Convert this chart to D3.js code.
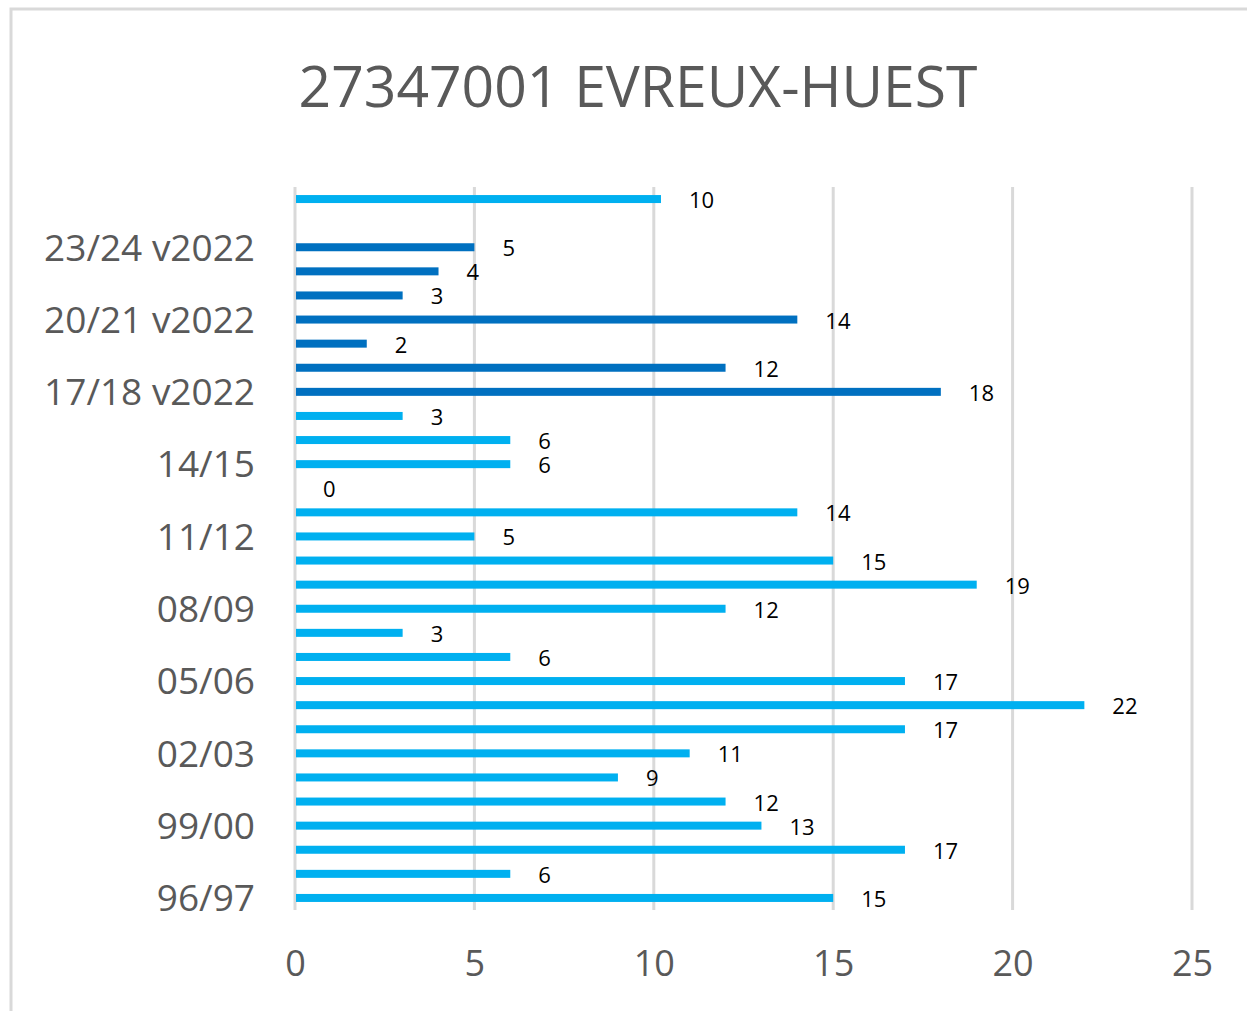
<!DOCTYPE html>
<html>
<head>
<meta charset="utf-8">
<script src="https://cdn.jsdelivr.net/npm/d3@7"></script>
<style>
  html, body { margin: 0; padding: 0; background: #fff; }
  svg { display: block; }
</style>
</head>
<body>
<svg id="chart" width="1247" height="1011"></svg>
<script>
// ---- data ----
const title = "27347001 EVREUX-HUEST";
const categories = ["96/97","97/98","98/99","99/00","00/01","01/02","02/03","03/04","04/05","05/06",
  "06/07","07/08","08/09","09/10","10/11","11/12","12/13","13/14","14/15","15/16",
  "16/17","17/18 v2022","18/19 v2022","19/20 v2022","20/21 v2022","21/22 v2022","22/23 v2022","23/24 v2022","24/25 v2022","25/26"];
const values = [15,6,17,13,12,9,11,17,22,17,
  6,3,12,19,15,5,14,0,6,6,
  3,18,12,2,14,3,4,5,null,10.2];
const method = ["old","old","old","old","old","old","old","old","old","old",
  "old","old","old","old","old","old","old","old","old","old",
  "old","v2022","v2022","v2022","v2022","v2022","v2022","v2022","v2022","old"];
const xTicks = [0,5,10,15,20,25];
const shownCategories = categories.filter((d,i) => i % 3 === 0);

// ---- layout ----
const svg = d3.select("#chart");
const font = "'Open Sans', 'Noto Sans', sans-serif";
const plot = {left: 295, right: 1192, top: 187, bottom: 910};

svg.append("rect").attr("x", 11).attr("y", 9).attr("width", 1260).attr("height", 1020)
  .attr("fill", "#fff").attr("stroke", "#d9d9d9").attr("stroke-width", 3);

const x = d3.scaleLinear().domain([0, 25]).range([plot.left, plot.right]);
const y = d3.scaleBand().domain(categories).range([plot.bottom, plot.top]).paddingInner(0).paddingOuter(0);
const color = d3.scaleOrdinal().domain(["old","v2022"]).range(["#00B0F0","#0070C0"]);

// gridlines
svg.append("g").selectAll("line").data(xTicks).join("line")
  .attr("x1", d => x(d)).attr("x2", d => x(d))
  .attr("y1", plot.top).attr("y2", plot.bottom)
  .attr("stroke", "#d9d9d9").attr("stroke-width", 3);

// title
svg.append("text").attr("x", 638).attr("y", 107).attr("text-anchor", "middle")
  .attr("font-family", font).attr("font-size", 57).attr("fill", "#595959").text(title);

// x axis
const xAxis = svg.append("g").attr("transform", `translate(0,${plot.bottom})`)
  .call(d3.axisBottom(x).tickValues(xTicks).tickSize(0).tickPadding(40));
xAxis.select(".domain").remove();
xAxis.selectAll("text").attr("font-family", font).attr("font-size", 36).attr("fill", "#595959");

// y axis
const yAxis = svg.append("g").attr("transform", `translate(${plot.left},0)`)
  .call(d3.axisLeft(y).tickValues(shownCategories).tickSize(0).tickPadding(40));
yAxis.select(".domain").remove();
yAxis.selectAll("text").attr("font-family", font).attr("font-size", 37).attr("fill", "#595959")
  .attr("dy", "0.36em");

// bars
const barH = 8;
const data = categories.map((c, i) => ({c, v: values[i], m: method[i]})).filter(d => d.v !== null);
svg.append("g").selectAll("rect").data(data).join("rect")
  .attr("x", x(0) + 1)
  .attr("y", d => y(d.c) + y.bandwidth() / 2 - barH / 2)
  .attr("width", d => Math.max(0, x(d.v) - x(0) - 1))
  .attr("height", barH)
  .attr("fill", d => color(d.m));

// data labels
svg.append("g").selectAll("text").data(data).join("text")
  .attr("x", d => x(d.v) + 28)
  .attr("y", d => y(d.c) + y.bandwidth() / 2 + 9)
  .attr("font-family", font).attr("font-size", 22).attr("fill", "#000")
  .text(d => Math.round(d.v));
</script>
</body>
</html>
